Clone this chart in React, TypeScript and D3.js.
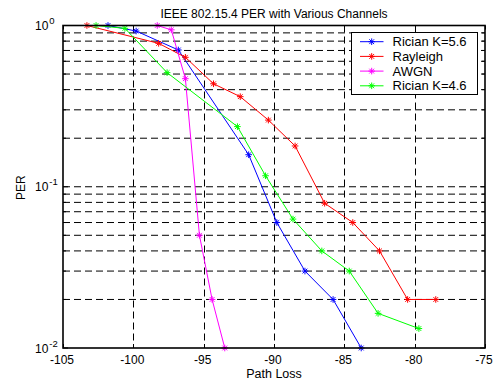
import React from "react";
import * as d3 from "d3";

const xTicks = [-105, -100, -95, -90, -85, -80, -75];
const yDecades = [1, 0.1, 0.01];
const yDecadeExp = ["0", "-1", "-2"];

const ricianK56X = [-101.8, -99.8, -96.8, -91.8, -89.8, -87.8, -85.8, -83.8];
const ricianK56Y = [1.0, 0.924, 0.705, 0.158, 0.06, 0.03, 0.02, 0.01];

const rayleighX = [-103.3, -98.2, -96.3, -94.3, -92.4, -90.4, -88.5, -86.4, -84.4, -82.5, -80.5, -78.5];
const rayleighY = [1.0, 0.775, 0.635, 0.435, 0.362, 0.259, 0.179, 0.079, 0.06, 0.04, 0.02, 0.02];

const awgnX = [-98.3, -97.3, -96.3, -95.3, -94.4, -93.5];
const awgnY = [1.0, 0.94, 0.468, 0.05, 0.02, 0.01];

const ricianK46X = [-102.65, -100.6, -97.6, -92.6, -90.6, -88.65, -86.6, -84.65, -82.6, -79.7];
const ricianK46Y = [1.0, 0.96, 0.51, 0.236, 0.117, 0.063, 0.04, 0.03, 0.0164, 0.0132];

const seriesNames = ["Rician K=5.6", "Rayleigh", "AWGN", "Rician K=4.6"];
const seriesColors = ["#0000ff", "#ff0000", "#ff00ff", "#00ff00"];
const seriesX = [ricianK56X, rayleighX, awgnX, ricianK46X];
const seriesY = [ricianK56Y, rayleighY, awgnY, ricianK46Y];

const W = 497;
const H = 385;
const L = 63;
const R = 485;
const T = 25.5;
const B = 348;

const FONT = "'Liberation Sans', Arial, Helvetica, sans-serif";

function Star({ x, y, color, r = 3.3 }: { x: number; y: number; color: string; r?: number }) {
  const d = r * 0.72;
  return (
    <g stroke={color} strokeWidth={1}>
      <line x1={x - r} y1={y} x2={x + r} y2={y} />
      <line x1={x} y1={y - r} x2={x} y2={y + r} />
      <line x1={x - d} y1={y - d} x2={x + d} y2={y + d} />
      <line x1={x - d} y1={y + d} x2={x + d} y2={y - d} />
    </g>
  );
}

export default function App() {
  const x = d3.scaleLinear().domain([-105, -75]).range([L, R]);
  const y = d3.scaleLog().domain([0.01, 1]).range([B, T]);

  const minorVals: number[] = [];
  [0.01, 0.1].forEach((dec) => {
    for (let k = 2; k <= 9; k++) minorVals.push(dec * k);
  });

  const line = d3
    .line<[number, number]>()
    .x((d) => x(d[0]))
    .y((d) => y(d[1]));

  const dash = "7,4";

  return (
    <svg width={W} height={H} style={{ position: "absolute", left: 0, top: 0, background: "#fff" }} fontFamily={FONT}>
      <rect x={0} y={0} width={W} height={H} fill="#fff" />
      {/* grid */}
      <g stroke="#000" strokeWidth={1} strokeDasharray={dash} fill="none">
        {xTicks.slice(1, -1).map((t) => (
          <line key={"gx" + t} x1={Math.round(x(t)) + 0.5} x2={Math.round(x(t)) + 0.5} y1={T} y2={B} />
        ))}
        {[...yDecades.slice(1, 2), ...minorVals].map((v, i) => (
          <line key={"gy" + i} x1={L} x2={R} y1={y(v)} y2={y(v)} />
        ))}
      </g>
      {/* ticks */}
      <g stroke="#000" strokeWidth={1}>
        {xTicks.map((t) => (
          <g key={"tx" + t}>
            <line x1={Math.round(x(t)) + 0.5} x2={Math.round(x(t)) + 0.5} y1={B} y2={B - 4} />
            <line x1={Math.round(x(t)) + 0.5} x2={Math.round(x(t)) + 0.5} y1={T} y2={T + 4} />
          </g>
        ))}
        {yDecades.map((v, i) => (
          <g key={"ty" + i}>
            <line x1={L} x2={L + 5} y1={y(v)} y2={y(v)} />
            <line x1={R} x2={R - 5} y1={y(v)} y2={y(v)} />
          </g>
        ))}
        {minorVals.map((v, i) => (
          <g key={"tm" + i}>
            <line x1={L} x2={L + 3} y1={y(v)} y2={y(v)} />
            <line x1={R} x2={R - 3} y1={y(v)} y2={y(v)} />
          </g>
        ))}
      </g>
      {/* series */}
      {seriesX.map((xs, si) => {
        const pts: [number, number][] = xs.map((xv, j) => [xv, seriesY[si][j]]);
        return (
          <g key={"s" + si}>
            <path d={line(pts) || ""} fill="none" stroke={seriesColors[si]} strokeWidth={1} />
            {pts.map((p, j) => (
              <Star key={j} x={x(p[0])} y={y(p[1])} color={seriesColors[si]} />
            ))}
          </g>
        );
      })}
      {/* axes box */}
      <rect x={L} y={T} width={R - L} height={B - T} fill="none" stroke="#000" strokeWidth={1.6} />
      {/* x tick labels */}
      <g fontSize={12} fill="#000" textAnchor="middle">
        {xTicks.map((t) => (
          <text key={"lx" + t} x={x(t) - 1} y={363.5}>
            {t}
          </text>
        ))}
      </g>
      {/* y tick labels */}
      <g fontSize={12} fill="#000">
        {yDecades.map((v, i) => (
          <text key={"ly" + i} x={35} y={y(v) + 4.7}>
            <tspan>10</tspan>
            <tspan dx={1} dy={-6} fontSize={9.5}>{yDecadeExp[i]}</tspan>
          </text>
        ))}
      </g>
      {/* title and axis labels */}
      <text x={(L + R) / 2} y={17.5} fontSize={12} textAnchor="middle" fill="#000">
        IEEE 802.15.4 PER with Various Channels
      </text>
      <text x={(L + R) / 2} y={378} fontSize={12.5} textAnchor="middle" fill="#000">
        Path Loss
      </text>
      <text transform={`translate(25, ${(T + B) / 2 + 1}) rotate(-90)`} fontSize={12} textAnchor="middle" fill="#000">
        PER
      </text>
      {/* legend */}
      <g>
        <rect x={351.5} y={32.5} width={126} height={62} fill="#fff" stroke="#000" strokeWidth={1} />
        {seriesNames.map((name, i) => {
          const ly = 41.7 + i * 14.7;
          return (
            <g key={"lg" + i}>
              <line x1={360} x2={383.5} y1={ly} y2={ly} stroke={seriesColors[i]} strokeWidth={1} />
              <Star x={371.7} y={ly} color={seriesColors[i]} />
              <text x={392.5} y={ly + 4.5} fontSize={13} fill="#000">
                {name}
              </text>
            </g>
          );
        })}
      </g>
    </svg>
  );
}
